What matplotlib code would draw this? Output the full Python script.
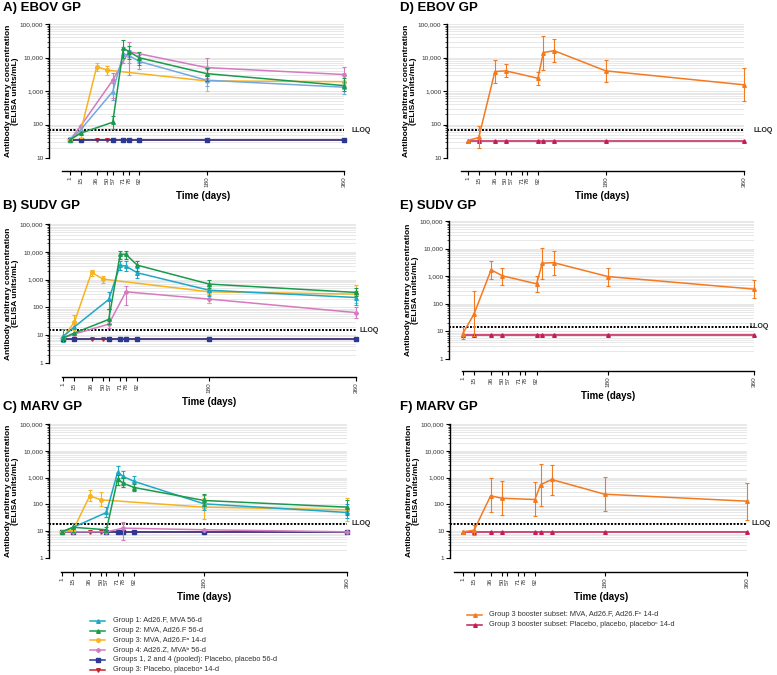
import numpy as np
import matplotlib
matplotlib.use('Agg')
import matplotlib.pyplot as plt
from matplotlib.lines import Line2D
from matplotlib.ticker import LogLocator, NullFormatter, FixedLocator, FuncFormatter

plt.rcParams['font.family'] = ['Liberation Sans', 'DejaVu Sans']

# ---- data ----
tick_days = [1, 15, 36, 50, 57, 71, 78, 92, 180, 360]

g1_days = [1, 15, 57, 71, 78, 92, 180, 360]
g2_days = [1, 15, 57, 71, 78, 92, 180, 360]
g3_days = [1, 15, 36, 50, 180, 360]
g4_days = [1, 15, 57, 78, 180, 360]
pooled_days = [1, 15, 57, 71, 78, 92, 180, 360]
g3_pbo_days = [1, 15, 36, 50, 180, 360]
boost_days = [1, 15, 36, 50, 92, 99, 113, 180, 360]

# EBOV GP
ebov_g1 = [35, 70, 960, 13000, 11500, 7600, 2100, 1300]
ebov_g1_lo = [30, None, 550, 7000, 7000, 4500, 1400, 800]
ebov_g1_hi = [42, None, 1700, 20000, 17000, 12000, 2800, 1800]
ebov_g2 = [35, 55, 117, 19000, 15000, 9800, 3300, 1450]
ebov_g2_lo = [None, None, 73, 10000, 9000, 6000, 2000, 1000]
ebov_g2_hi = [None, None, 180, 33000, 22000, 15000, 5000, 2500]
ebov_g3 = [35, 62, 5300, 4200, 2000, 1900]
ebov_g3_lo = [None, 40, 4000, 3000, 1000, 1500]
ebov_g3_hi = [None, 90, 7000, 5500, 3500, 3500]
ebov_g4 = [35, 90, 2100, 15000, 5000, 3100]
ebov_g4_lo = [None, None, 600, 3000, 2500, 1800]
ebov_g4_hi = [None, None, 3500, 30000, 9500, 5200]
ebov_pooled = [34, 34, 34, 34, 34, 34, 34, 34]
ebov_g3_pbo = [34, 34, 34, 34, 34, 34]
ebov_lloq = 67

# SUDV GP
sudv_g1 = [9, 20, 193, 3300, 3050, 1760, 415, 227]
sudv_g1_lo = [5.5, None, 90, 2200, 2000, 1100, 250, 120]
sudv_g1_hi = [17, None, 350, 4800, 4600, 2600, 600, 400]
sudv_g2 = [8, 12, 37, 8100, 8100, 3300, 690, 345]
sudv_g2_lo = [None, None, 25, 5500, 5500, 2100, 500, 250]
sudv_g2_hi = [None, None, 90, 11000, 11000, 4800, 1000, 500]
sudv_g3 = [8, 30, 1820, 1040, 363, 300]
sudv_g3_lo = [None, 15, 1300, 750, 150, 150]
sudv_g3_hi = [None, 55, 2300, 1400, 550, 650]
sudv_g4 = [8, 11, 25, 363, 199, 65]
sudv_g4_lo = [None, None, 18, 120, 150, 40]
sudv_g4_hi = [None, None, 90, 580, 270, 100]
sudv_pooled = [7.5, 7.5, 7.5, 7.5, 7.5, 7.5, 7.5, 7.5]
sudv_g3_pbo = [7.5, 7.5, 7.5, 7.5, 7.5, 7.5]
sudv_lloq = 15

# MARV GP
marv_g1 = [9.5, 14, 50, 1590, 1100, 720, 105, 50]
marv_g1_lo = [None, None, 35, 1000, 700, 450, 60, 30]
marv_g1_hi = [None, None, 80, 2600, 1800, 1100, 220, 100]
marv_g2 = [9.5, 14, 11.3, 870, 620, 426, 140, 79]
marv_g2_lo = [None, 9, 9, 550, 450, 320, 90, 40]
marv_g2_hi = [None, 21, 14, 1300, 950, 600, 240, 150]
marv_g3 = [9.5, 11, 210, 148, 79, 63]
marv_g3_lo = [None, 9, 130, 85, 28, 25]
marv_g3_hi = [None, 14, 350, 290, 170, 180]
marv_g4 = [9.5, 9.5, 9.5, 13, 11.3, 9.5]
marv_g4_lo = [None, None, None, 4.5, None, None]
marv_g4_hi = [None, None, None, 23, None, None]
marv_pooled = [9.5, 9.5, 9.5, 9.5, 9.5, 9.5, 9.5, 9.5]
marv_g3_pbo = [9.5, 9.5, 9.5, 9.5, 9.5, 9.5]
marv_lloq = 19

# Group 3 booster subset
ebov_boost = [33, 41, 3800, 4000, 2400, 14000, 16000, 4000, 1530]
ebov_boost_lo = [None, 20, 1790, 2600, 1530, 4300, 7200, 1850, 510]
ebov_boost_hi = [None, 88, 8500, 6300, 3800, 45000, 35000, 8300, 5000]
ebov_boost_pbo = [33, 33, 33, 33, 33, 33, 33, 33, 33]
sudv_boost = [8.2, 43, 1700, 1030, 530, 2950, 3100, 970, 340]
sudv_boost_lo = [5.3, 7, 800, 500, 270, 780, 1150, 430, 165]
sudv_boost_hi = [14, 295, 3700, 2000, 1050, 10300, 8000, 1950, 730]
sudv_boost_pbo = [7.5, 7.5, 7.5, 7.5, 7.5, 7.5, 7.5, 7.5, 7.5]
marv_boost = [9.5, 10.8, 210, 170, 152, 540, 850, 240, 132]
marv_boost_lo = [None, 7.5, 50, 40, 36, 88, 230, 55, 27]
marv_boost_hi = [None, 17, 930, 760, 680, 3100, 2900, 1050, 650]
marv_boost_pbo = [9.5, 9.5, 9.5, 9.5, 9.5, 9.5, 9.5, 9.5, 9.5]

left_labels = ['Group 1: Ad26.F, MVA 56-d',
               'Group 2: MVA, Ad26.F 56-d',
               'Group 3: MVA, Ad26.F\u1d43 14-d',
               'Group 4: Ad26.Z, MVA\u1d47 56-d',
               'Groups 1, 2 and 4 (pooled): Placebo, placebo 56-d',
               'Group 3: Placebo, placebo\u1d43 14-d']
right_labels = ['Group 3 booster subset: MVA, Ad26.F, Ad26.F\u1d9c 14-d',
                'Group 3 booster subset: Placebo, placebo, placebo\u1d9c 14-d']

# ---- styles ----
c_g1_light = '#74a9de'
c_g1 = '#1da9c6'
c_g2 = '#1a9a4b'
c_g3 = '#f9b31e'
c_g4 = '#d47bbf'
c_pooled = '#2b3990'
c_g3pbo = '#c1272d'
c_boost = '#f47a20'
c_boostpbo = '#c41e5a'
left_colors = [c_g1, c_g2, c_g3, c_g4, c_pooled, c_g3pbo]
left_markers = ['^', '^', 'o', 'P', 's', 'v']

W, H = 777, 675
fig = plt.figure(figsize=(W / 100, H / 100), dpi=100)


def arr(v):
    return np.array(v, dtype=float)


def series(ax, days, vals, lo, hi, color, marker, z):
    v = arr(vals)
    if lo is None:
        line, = ax.plot(days, v, color=color, marker=marker, ms=2.6, lw=1.1, zorder=z)
        line.set_clip_on(False)
        return
    yerr = [v - arr(lo), arr(hi) - v]
    eb = ax.errorbar(days, v, yerr=yerr, color=color, marker=marker, ms=2.6, lw=1.1,
                     elinewidth=0.8, capsize=1.6, capthick=0.8, zorder=z)
    for a in eb.get_children():
        a.set_clip_on(False)


def make_axes(l, r, t, b, xlo, ylo, spine_px, xstart, title, tx, ty, lloq, lloq_x):
    ax = fig.add_axes([l / W, 1 - b / H, (r - l) / W, (b - t) / H])
    ax.set_yscale('log')
    ax.set_xlim(xlo, 360)
    ax.set_ylim(ylo, 1e5)
    for s in ['top', 'right']:
        ax.spines[s].set_visible(False)
    ax.spines['left'].set_linewidth(1.0)
    ax.spines['bottom'].set_linewidth(1.0)
    ax.spines['bottom'].set_position(('outward', spine_px * 0.72))
    ax.spines['bottom'].set_bounds(xstart, 360)
    ax.xaxis.set_major_locator(FixedLocator(tick_days))
    ax.yaxis.set_major_locator(LogLocator(base=10, numticks=10))
    ax.yaxis.set_minor_locator(LogLocator(base=10, subs=np.arange(2, 10), numticks=20))
    ax.yaxis.set_minor_formatter(NullFormatter())
    ax.yaxis.set_major_formatter(FuncFormatter(lambda v, p: f'{int(round(v)):,}'))
    ax.tick_params(axis='y', which='major', length=3, width=0.8, labelsize=4.6, pad=1,
                   labelcolor='#333333')
    ax.tick_params(axis='y', which='minor', length=1.6, width=0.5)
    ax.tick_params(axis='x', length=3, width=0.8, labelsize=4.6, pad=1,
                   labelrotation=90, labelcolor='#333333')
    ax.grid(axis='y', which='both', color='#dedede', lw=0.5)
    ax.set_axisbelow(True)
    ax.axhline(lloq, color='black', lw=1.4, ls=(0, (1, 0.8)), zorder=1.5)
    # LLOQ label placed in figure pixels
    ly = ax.transData.transform((0, lloq))[1] / fig.dpi / fig.get_figheight()
    fig.text(lloq_x / W, ly, 'LLOQ', fontsize=5, fontweight='bold', va='center',
             ha='left', color='#222222')
    fig.text(tx / W, 1 - ty / H, title, fontsize=9.5, fontweight='bold', va='center')
    # y label and x label in figure pixels
    ylab_x = l - 37
    fig.text(ylab_x / W, 1 - (t + b) / 2 / H,
             'Antibody arbitrary concentration\n(ELISA units/mL)',
             rotation=90, fontsize=6, fontweight='bold', ha='center', va='center',
             multialignment='center', linespacing=1.15)
    x0 = l + (xstart - xlo) / (360 - xlo) * (r - l)
    fig.text((x0 + r) / 2 / W, 1 - (b + spine_px + 25) / H, 'Time (days)',
             fontsize=7, fontweight='bold', ha='center', va='center')
    return ax


# left column
axA = make_axes(49, 344, 24, 158, -26.5, 10, 13, -9, 'A) EBOV GP', 3, 8, ebov_lloq, 352)
axB = make_axes(49, 356, 224, 363, -16.2, 1, 14, 0, 'B) SUDV GP', 3, 206, sudv_lloq, 360)
axC = make_axes(49, 347, 424, 558, -15.4, 1, 14, 0, 'C) MARV GP', 3, 407, marv_lloq, 352)
# right column
axD = make_axes(447, 744, 24, 158, -26.3, 10, 13, -8, 'D) EBOV GP', 400, 8, ebov_lloq, 754)
axE = make_axes(449, 754, 221, 359, -15.9, 1, 12, 0, 'E) SUDV GP', 400, 206, sudv_lloq, 749)
axF = make_axes(450, 747, 424, 558, -15.4, 1, 14, -10, 'F) MARV GP', 400, 407, marv_lloq, 752)

left_sets = [
    (axA, c_g1_light, ebov_g1, ebov_g1_lo, ebov_g1_hi, ebov_g2, ebov_g2_lo, ebov_g2_hi,
     ebov_g3, ebov_g3_lo, ebov_g3_hi, ebov_g4, ebov_g4_lo, ebov_g4_hi, ebov_pooled, ebov_g3_pbo),
    (axB, c_g1, sudv_g1, sudv_g1_lo, sudv_g1_hi, sudv_g2, sudv_g2_lo, sudv_g2_hi,
     sudv_g3, sudv_g3_lo, sudv_g3_hi, sudv_g4, sudv_g4_lo, sudv_g4_hi, sudv_pooled, sudv_g3_pbo),
    (axC, c_g1, marv_g1, marv_g1_lo, marv_g1_hi, marv_g2, marv_g2_lo, marv_g2_hi,
     marv_g3, marv_g3_lo, marv_g3_hi, marv_g4, marv_g4_lo, marv_g4_hi, marv_pooled, marv_g3_pbo),
]
for (ax, cg1, v1, l1, h1, v2, l2, h2, v3, l3, h3, v4, l4, h4, vp, vr) in left_sets:
    series(ax, g3_pbo_days, vr, None, None, c_g3pbo, 'v', 3)
    series(ax, pooled_days, vp, None, None, c_pooled, 's', 3.1)
    series(ax, g4_days, v4, l4, h4, c_g4, 'P', 3.2)
    series(ax, g3_days, v3, l3, h3, c_g3, 'o', 3.3)
    series(ax, g1_days, v1, l1, h1, cg1, '^', 3.4)
    series(ax, g2_days, v2, l2, h2, c_g2, '^', 3.5)

right_sets = [
    (axD, ebov_boost, ebov_boost_lo, ebov_boost_hi, ebov_boost_pbo),
    (axE, sudv_boost, sudv_boost_lo, sudv_boost_hi, sudv_boost_pbo),
    (axF, marv_boost, marv_boost_lo, marv_boost_hi, marv_boost_pbo),
]
for ax, vb, lb, hb, vpb in right_sets:
    series(ax, boost_days, vpb, None, None, c_boostpbo, '^', 3)
    series(ax, boost_days, vb, lb, hb, c_boost, '^', 3.2)


# legends drawn in figure pixels
def legend_row(x0, x1, xt, y, color, marker, label):
    yf = 1 - y / H
    fig.add_artist(Line2D([x0 / W, (x0 + x1) / 2 / W, x1 / W], [yf, yf, yf],
                          transform=fig.transFigure, color=color, lw=1.1,
                          marker=marker, ms=2.6, markevery=[1]))
    fig.text(xt / W, yf, label, fontsize=5.3, va='center', ha='left', color='#333333')


for i, (lab, col, mk) in enumerate(zip(left_labels, left_colors, left_markers)):
    legend_row(90, 105, 113, 621 + i * 9.7, col, mk, lab)
for i, (lab, col) in enumerate(zip(right_labels, [c_boost, c_boostpbo])):
    legend_row(467, 482, 489, 615 + i * 9.7, col, '^', lab)

fig.savefig('out.png', dpi=100)
